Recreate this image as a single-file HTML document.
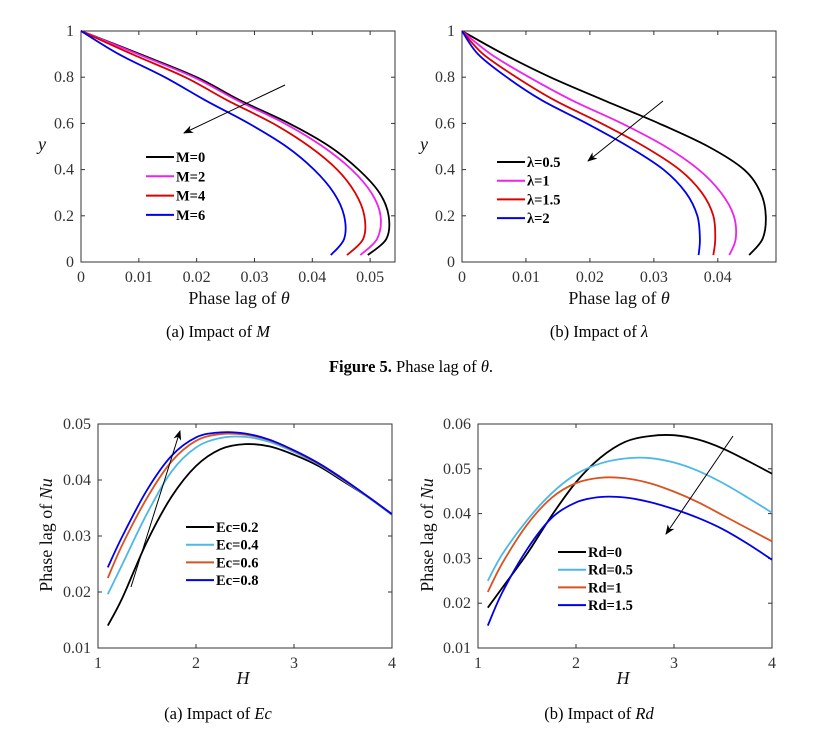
<!DOCTYPE html>
<html><head><meta charset="utf-8"><style>
body{margin:0;background:#fff;}
svg{display:block;font-family:"Liberation Serif",serif;}
.tk{font-size:16px;fill:#333;}
.lab{font-size:18px;fill:#111;}
.leg{font-size:14.5px;font-weight:bold;fill:#000;}
.cap{font-size:16.5px;fill:#000;}
</style></head><body>
<svg id="root" width="823" height="731" viewBox="0 0 823 731" xmlns="http://www.w3.org/2000/svg">
<defs><marker id="ah" markerWidth="10" markerHeight="8" refX="9" refY="4" orient="auto"><path d="M0,0 L10,4 L0,8 L3,4 Z" fill="#000"/></marker></defs>
<text class="cap" x="411" y="372" text-anchor="middle"><tspan font-weight="bold">Figure 5.</tspan> Phase lag of <tspan font-style="italic">θ</tspan>.</text>
</svg>
<script>
// Panel (a): Impact of M — x(y) curves
const yLevels = [1,0.9,0.8,0.7,0.6,0.5,0.4,0.3,0.2,0.1,0.03];
const mLabels = ["M=0","M=2","M=4","M=6"];
const m0 = [0,0.0102,0.020,0.0275,0.036,0.043,0.048,0.0516,0.0532,0.0528,0.0496];
const m2 = [0,0.0098,0.0195,0.027,0.0352,0.0418,0.0468,0.0502,0.0518,0.0512,0.0483];
const m4 = [0,0.0088,0.018,0.0253,0.0332,0.0395,0.0443,0.0474,0.049,0.0488,0.046];
const m6 = [0,0.0065,0.0145,0.0215,0.029,0.0355,0.0403,0.0437,0.0455,0.0455,0.0432];
// Panel (b): Impact of lambda
const lLabels = ["λ=0.5","λ=1","λ=1.5","λ=2"];
const l05 = [0,0.0065,0.0138,0.0222,0.0308,0.0385,0.0441,0.0467,0.0475,0.047,0.0449];
const l1 = [0,0.0045,0.0105,0.0172,0.025,0.0318,0.037,0.0405,0.0425,0.0428,0.0418];
const l15 = [0,0.0033,0.0085,0.0145,0.0218,0.0285,0.034,0.0375,0.0393,0.0396,0.0393];
const l2 = [0,0.0025,0.007,0.0125,0.0195,0.026,0.0315,0.035,0.0368,0.0372,0.037];
// Panels (c),(d): y vs H
const hVals = [1.1,1.25,1.5,1.75,2,2.25,2.5,2.75,3,3.25,3.5,3.75,4];
const ecLabels = ["Ec=0.2","Ec=0.4","Ec=0.6","Ec=0.8"];
const ec02 = [0.014,0.019,0.029,0.037,0.0425,0.0455,0.0464,0.046,0.0445,0.0425,0.0398,0.037,0.0338];
const ec04 = [0.0196,0.025,0.034,0.0415,0.0458,0.0475,0.0477,0.0468,0.045,0.0428,0.04,0.037,0.0338];
const ec06 = [0.0225,0.0285,0.0368,0.0433,0.047,0.0482,0.0481,0.0471,0.0452,0.0429,0.0401,0.0371,0.0339];
const ec08 = [0.0244,0.030,0.0382,0.0443,0.0476,0.0485,0.0483,0.0472,0.0453,0.043,0.0402,0.0371,0.0339];
const rdLabels = ["Rd=0","Rd=0.5","Rd=1","Rd=1.5"];
const rd0 = [0.019,0.0235,0.031,0.0395,0.047,0.0525,0.056,0.0573,0.0575,0.0565,0.0545,0.0518,0.0489];
const rd05 = [0.025,0.031,0.0385,0.0445,0.0488,0.0512,0.0523,0.0524,0.0514,0.0495,0.0468,0.0436,0.0402];
const rd1 = [0.0225,0.029,0.0375,0.0435,0.0468,0.048,0.0479,0.0468,0.0449,0.0425,0.0396,0.0367,0.0338];
const rd15 = [0.015,0.0225,0.032,0.039,0.0425,0.0437,0.0436,0.0426,0.041,0.039,0.0365,0.0333,0.0297];
const xTicksA = [0,0.01,0.02,0.03,0.04,0.05];
const xTicksB = [0,0.01,0.02,0.03,0.04];
const yTicksAB = [0,0.2,0.4,0.6,0.8,1];
const hTicks = [1,2,3,4];
const yTicksC = [0.01,0.02,0.03,0.04,0.05];
const yTicksD = [0.01,0.02,0.03,0.04,0.05,0.06];

const NS="http://www.w3.org/2000/svg";
const root=document.getElementById('root');
function mk(tag,attrs,parent){const e=document.createElementNS(NS,tag);for(const k in attrs)e.setAttribute(k,attrs[k]);(parent||root).appendChild(e);return e;}

function panel(cfg){
  const g=mk('g',{});
  
  
  const X=v=>cfg.x0+(v-cfg.xmin)/(cfg.xmax-cfg.xmin)*(cfg.x1-cfg.x0);
  const Y=v=>cfg.y0-(v-cfg.ymin)/(cfg.ymax-cfg.ymin)*(cfg.y0-cfg.y1);
  const box=mk('rect',{x:cfg.x0,y:cfg.y1,width:cfg.x1-cfg.x0,height:cfg.y0-cfg.y1,fill:'none',stroke:'#333','stroke-width':1},g);
  
  
  cfg.xt.forEach(t=>{const px=X(t);
    mk('line',{x1:px,x2:px,y1:cfg.y0,y2:cfg.y0-4,stroke:'#333'},g);
    mk('line',{x1:px,x2:px,y1:cfg.y1,y2:cfg.y1+4,stroke:'#333'},g);
    const tx=mk('text',{x:px,y:cfg.y0+20,'text-anchor':'middle',class:'tk'},g);tx.textContent=String(t);
    
    });
  cfg.yt.forEach(t=>{const py=Y(t);
    mk('line',{x1:cfg.x0,x2:cfg.x0+4,y1:py,y2:py,stroke:'#333'},g);
    mk('line',{x1:cfg.x1,x2:cfg.x1-4,y1:py,y2:py,stroke:'#333'},g);
    const tx=mk('text',{x:cfg.x0-7,y:py+5,'text-anchor':'end',class:'tk'},g);tx.textContent=String(t);
    
    });
  cfg.series.forEach((s,i)=>{
    const p=mk('path',{d:smooth(s.xs.map(X),s.ys.map(Y)),fill:'none',stroke:s.c,'stroke-width':1.8},g);
    
    
    const ly=cfg.leg[1]+i*cfg.leg[2];
    const ll=mk('line',{x1:cfg.leg[0],x2:cfg.leg[0]+28,y1:ly,y2:ly,stroke:s.c,'stroke-width':2},g);
    
    
    const lt=mk('text',{x:cfg.leg[0]+30,y:ly+5,class:'leg'},g);lt.textContent=s.label;
    
    
  });
  const ar=mk('line',{x1:cfg.arrow[0],y1:cfg.arrow[1],x2:cfg.arrow[2],y2:cfg.arrow[3],stroke:'#000','stroke-width':1,'marker-end':'url(#ah)'},g);
  
  
  return g;
}
function smooth(px,py){
  let d='M'+px[0].toFixed(2)+','+py[0].toFixed(2);
  for(let i=0;i<px.length-1;i++){
    const p0=[px[Math.max(i-1,0)],py[Math.max(i-1,0)]],p1=[px[i],py[i]],p2=[px[i+1],py[i+1]],p3=[px[Math.min(i+2,px.length-1)],py[Math.min(i+2,py.length-1)]];
    const c1=[p1[0]+(p2[0]-p0[0])/6,p1[1]+(p2[1]-p0[1])/6],c2=[p2[0]-(p3[0]-p1[0])/6,p2[1]-(p3[1]-p1[1])/6];
    d+='C'+c1.map(v=>v.toFixed(2)).join(',')+' '+c2.map(v=>v.toFixed(2)).join(',')+' '+p2.map(v=>v.toFixed(2)).join(',');
  }
  return d;
}
const C4a=['#000','#ee22ee','#dd0000','#0000ee'];
const C4b=['#000','#4db8e8','#d9531e','#0000ee'];
panel({name:'chart-impact-of-M',x0:81,x1:395,y0:262,y1:31,xmin:0,xmax:0.0543,ymin:0,ymax:1,xt:xTicksA,yt:yTicksAB,leg:[146,157,19.3],arrow:[285,85,184,133],
  series:[m0,m2,m4,m6].map((a,i)=>({xs:a,ys:yLevels,c:C4a[i],label:mLabels[i]}))});
panel({name:'chart-impact-of-lambda',x0:462,x1:776,y0:262,y1:31,xmin:0,xmax:0.0491,ymin:0,ymax:1,xt:xTicksB,yt:yTicksAB,leg:[497,162,18.7],arrow:[663,101,588,161],
  series:[l05,l1,l15,l2].map((a,i)=>({xs:a,ys:yLevels,c:C4a[i],label:lLabels[i]}))});
panel({name:'chart-impact-of-Ec',x0:98,x1:392,y0:648,y1:424,xmin:1,xmax:4,ymin:0.01,ymax:0.05,xt:hTicks,yt:yTicksC,leg:[186,527,17.7],arrow:[131,587,180,431],
  series:[ec02,ec04,ec06,ec08].map((a,i)=>({xs:hVals,ys:a,c:C4b[i],label:ecLabels[i]}))});
panel({name:'chart-impact-of-Rd',x0:478,x1:772,y0:648,y1:424,xmin:1,xmax:4,ymin:0.01,ymax:0.06,xt:hTicks,yt:yTicksD,leg:[558,552,17.7],arrow:[733,436,666,534],
  series:[rd0,rd05,rd1,rd15].map((a,i)=>({xs:hVals,ys:a,c:C4b[i],label:rdLabels[i]}))});

function txt(x,y,html,cls,name,rot){const t=mk('text',{x:x,y:y,'text-anchor':'middle',class:cls});if(rot)t.setAttribute('transform','rotate(-90 '+x+' '+y+')');t.innerHTML=html;
  
  }
txt(239,304,'Phase lag of <tspan font-style="italic">θ</tspan>','lab','x-axis-title-a');
txt(619,304,'Phase lag of <tspan font-style="italic">θ</tspan>','lab','x-axis-title-b');
txt(42,150,'<tspan font-style="italic">y</tspan>','lab','y-axis-title-a');
txt(424,150,'<tspan font-style="italic">y</tspan>','lab','y-axis-title-b');
txt(218,337,'(a) Impact of <tspan font-style="italic">M</tspan>','cap','caption-a');
txt(599,337,'(b) Impact of <tspan font-style="italic">λ</tspan>','cap','caption-b');
txt(243,684,'<tspan font-style="italic">H</tspan>','lab','x-axis-title-c');
txt(623,684,'<tspan font-style="italic">H</tspan>','lab','x-axis-title-d');
txt(52,535,'Phase lag of <tspan font-style="italic">Nu</tspan>','lab','y-axis-title-c',true);
txt(433,535,'Phase lag of <tspan font-style="italic">Nu</tspan>','lab','y-axis-title-d',true);
txt(218,719,'(a) Impact of <tspan font-style="italic">Ec</tspan>','cap','caption-c');
txt(599,719,'(b) Impact of <tspan font-style="italic">Rd</tspan>','cap','caption-d');
</script>
</body></html>
